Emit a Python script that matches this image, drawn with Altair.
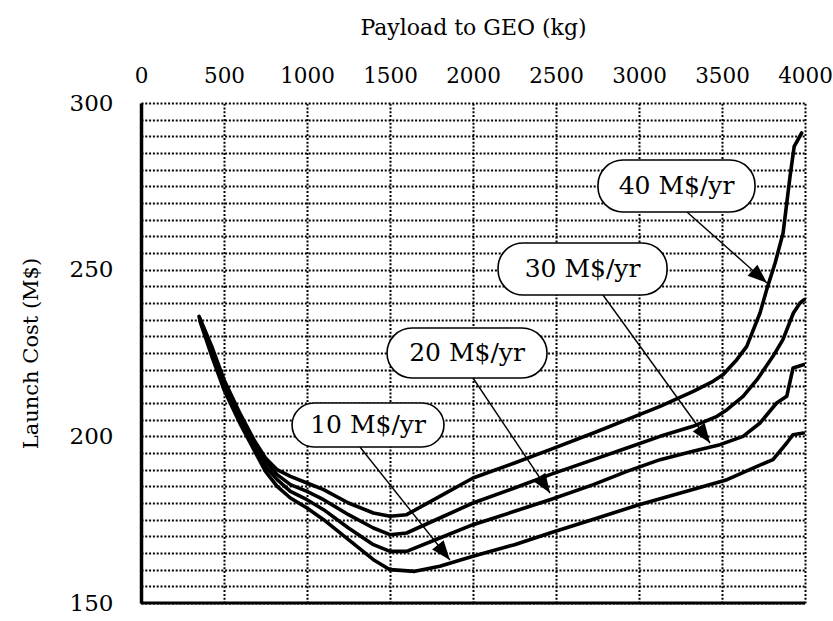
import math
import altair as alt
import pandas as pd

# ---------------- data ----------------
x_ticks = [0, 500, 1000, 1500, 2000, 2500, 3000, 3500, 4000]
y_grid = list(range(150, 301, 5))
y_labels = [150, 200, 250, 300]

series_names = ["40 M$/yr", "30 M$/yr", "20 M$/yr", "10 M$/yr"]

x40 = [350, 430, 500, 600, 680, 750, 820, 900, 1000, 1100, 1250, 1400, 1500, 1600, 1800, 2000,
       2250, 2464, 2725, 2927, 3127, 3327, 3446, 3506, 3589, 3649, 3729, 3769, 3820, 3868, 3910, 3935, 3980]
y40 = [236, 226.5, 217, 206.5, 199, 193.5, 190, 188, 186, 184, 180, 177, 176, 176.5, 182, 187.5,
       192, 196, 201, 205, 209, 213.5, 216.5, 218.5, 223, 227, 237, 244, 252, 261, 278, 287, 291]

x30 = [352, 430, 500, 600, 680, 750, 820, 900, 1000, 1100, 1250, 1400, 1500, 1600, 1800, 2000,
       2250, 2464, 2725, 2927, 3127, 3325, 3470, 3530, 3627, 3711, 3807, 3867, 3930, 3970, 3995]
y30 = [235.5, 225.5, 216, 205.5, 198, 192.5, 188.5, 185.5, 183.5, 181, 176.5, 172.5, 170.5, 171, 175.5, 180,
       184.5, 188.5, 193, 196.5, 200, 203, 206, 208, 212, 217, 224, 229, 237, 240, 241]

x20 = [354, 430, 500, 600, 680, 750, 820, 900, 1000, 1100, 1250, 1400, 1500, 1600, 1800, 2000,
       2250, 2464, 2725, 2927, 3127, 3325, 3488, 3627, 3729, 3829, 3890, 3928, 3990]
y20 = [235, 224.5, 215, 204.5, 197, 191, 187, 183.5, 181, 178, 172.5, 167.5, 165.5, 165.5, 169.5, 173.5,
       177.5, 181, 185.5, 189.5, 193, 195.5, 197.5, 200, 204, 210, 212, 220.5, 221.5]

x10 = [356, 430, 500, 600, 680, 750, 820, 900, 1000, 1100, 1250, 1400, 1500, 1650, 1800, 2000,
       2250, 2464, 2750, 3000, 3250, 3530, 3711, 3807, 3890, 3928, 3990]
y10 = [234.5, 223.5, 214, 203.5, 196, 189.5, 185, 181.5, 178.5, 175, 169, 163, 160, 159.5, 161, 164,
       167.5, 171, 175.5, 179.5, 183, 187, 191, 193, 198, 200.5, 201]

# annotation boxes (data units) and arrows
label_text = ["40 M$/yr", "30 M$/yr", "20 M$/yr", "10 M$/yr"]
box_x0 = [2753, 2151, 1482, 910]
box_x1 = [3699, 3169, 2446, 1825]
box_y0 = [267.3, 242.4, 217.5, 196.8]
box_y1 = [282.9, 258.0, 232.5, 210.0]
arrow_x0 = [3289, 2783, 2000, 1319]
arrow_y0 = [267.3, 242.4, 217.5, 196.8]
arrow_x1 = [3771, 3428, 2464, 1861]
arrow_y1 = [246.0, 198.0, 183.0, 162.9]

# ---------------- layout ----------------
W, H = 664, 500
FONT = "DejaVu Serif"

rows = []
for name, xs_, ys_ in zip(series_names, [x40, x30, x20, x10], [y40, y30, y20, y10]):
    for i, (a, b) in enumerate(zip(xs_, ys_)):
        rows.append({"series": name, "x": a, "y": b, "order": i})
curves = pd.DataFrame(rows)

ann = pd.DataFrame({
    "label": label_text,
    "bx0": box_x0, "bx1": box_x1, "by0": box_y0, "by1": box_y1,
    "ax0": arrow_x0, "ay0": arrow_y0, "ax1": arrow_x1, "ay1": arrow_y1,
})
ann["tx"] = (ann["bx0"] + ann["bx1"]) / 2
ann["ty"] = (ann["by0"] + ann["by1"]) / 2


def head_angle(r):
    dx = (r["ax1"] - r["ax0"]) / 4000 * W
    dy = -(r["ay1"] - r["ay0"]) / 150 * H
    return math.degrees(math.atan2(dx, -dy)) % 360


ann["ang"] = ann.apply(head_angle, axis=1)

xs = alt.Scale(domain=[0, 4000], nice=False, zero=False)
ys = alt.Scale(domain=[150, 300], nice=False, zero=False)

x_axis = alt.Axis(
    orient="top", values=x_ticks, format="d", title="Payload to GEO (kg)", grid=True,
    gridColor="#000", gridDash=[2, 1.8], gridWidth=2, gridOpacity=1,
    domain=False, ticks=False, tickSize=0, labelPadding=16,
    labelFont=FONT, labelFontSize=21.5, labelColor="#000", labelFlush=False,
    titleFont=FONT, titleFontSize=22, titleFontWeight="normal", titleColor="#000",
    titlePadding=26,
)
y_axis = alt.Axis(
    orient="left", values=y_grid, format="d", title="Launch Cost (M$)", grid=True,
    gridColor="#000", gridDash=[2, 1.8], gridWidth=2, gridOpacity=1,
    domain=True, domainColor="#000", domainWidth=3.5, ticks=False, tickSize=0,
    labelPadding=28, labelExpr="indexof([150, 200, 250, 300], datum.value) >= 0 ? datum.label : ''",
    labelFont=FONT, labelFontSize=23, labelColor="#000", labelFlush=False,
    titleFont=FONT, titleFontSize=21, titleFontWeight="normal", titleColor="#000",
    titlePadding=28,
)

lines = alt.Chart(curves).mark_line(
    color="#000", strokeWidth=3.6, strokeJoin="round", strokeCap="round"
).encode(
    x=alt.X("x:Q", scale=xs, axis=x_axis),
    y=alt.Y("y:Q", scale=ys, axis=y_axis),
    detail="series:N",
    order="order:Q",
)

bottom = alt.Chart(pd.DataFrame({"yb": [150]})).mark_rule(color="#000", strokeWidth=3).encode(
    y=alt.Y("yb:Q", scale=ys, axis=y_axis)
)

arrows = alt.Chart(ann).mark_rule(color="#000", strokeWidth=1.4).encode(
    x=alt.X("ax0:Q", scale=xs, axis=x_axis), y=alt.Y("ay0:Q", scale=ys, axis=y_axis),
    x2="ax1:Q", y2="ay1:Q",
)

heads = alt.Chart(ann).mark_point(
    shape="M0,0L-0.38,1L0.38,1Z", filled=True, color="#000", opacity=1, size=1500
).encode(
    x=alt.X("ax1:Q", scale=xs, axis=x_axis), y=alt.Y("ay1:Q", scale=ys, axis=y_axis),
    angle=alt.Angle("ang:Q", scale=None),
)

boxes = alt.Chart(ann).mark_rect(
    fill="#fff", stroke="#000", strokeWidth=1.6, cornerRadius=25
).encode(
    x=alt.X("bx0:Q", scale=xs, axis=x_axis), x2="bx1:Q",
    y=alt.Y("by0:Q", scale=ys, axis=y_axis), y2="by1:Q",
)

texts = alt.Chart(ann).mark_text(font=FONT, fontSize=25, color="#000").encode(
    x=alt.X("tx:Q", scale=xs, axis=x_axis), y=alt.Y("ty:Q", scale=ys, axis=y_axis),
    text="label:N",
)

chart = alt.layer(lines, bottom, arrows, heads, boxes, texts).properties(
    width=W, height=H,
    padding={"left": 141, "top": 103, "right": 28, "bottom": 18},
    autosize=alt.AutoSizeParams(type="none"),
    background="#fff",
).configure_view(stroke=None)

chart.save("out.html", embed_options={"renderer": "svg", "actions": False})
